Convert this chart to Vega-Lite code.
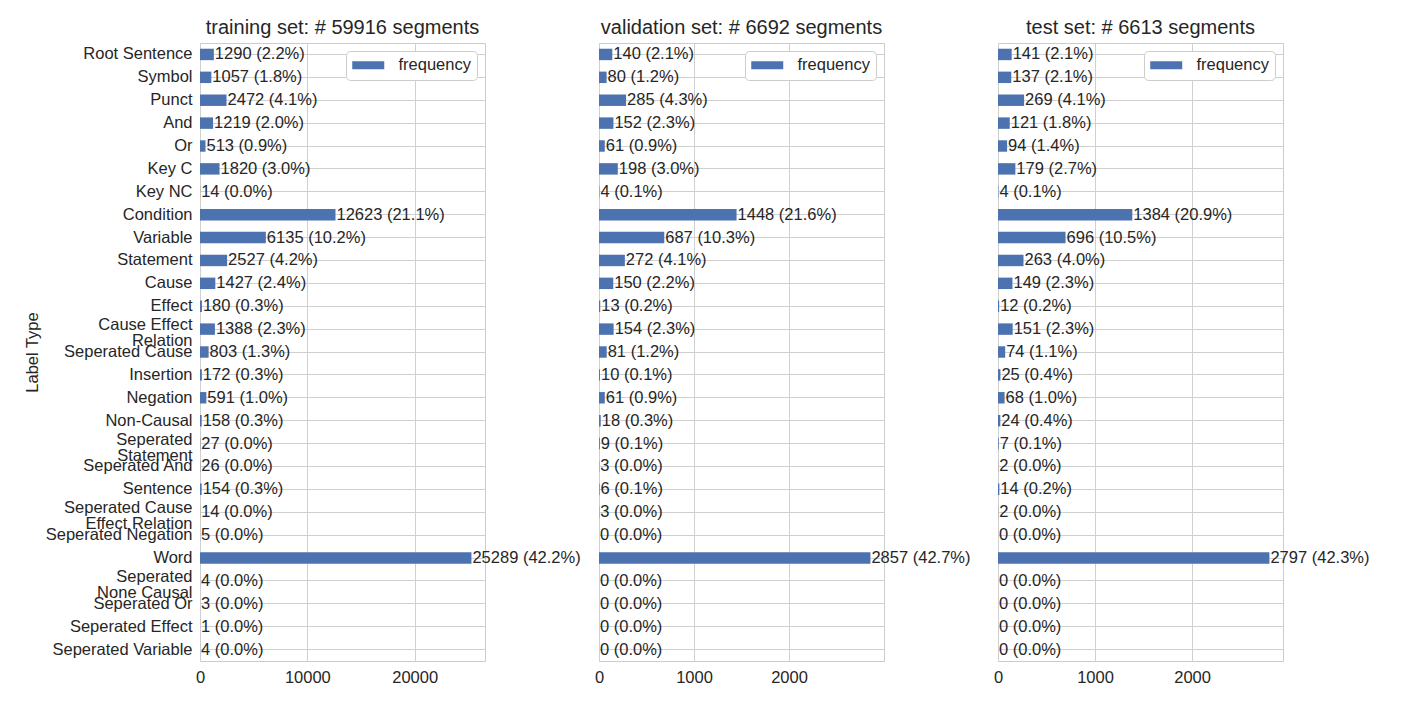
{
  "$schema": "https://vega.github.io/schema/vega-lite/v6.json",
  "padding": {"left": 23, "top": 17, "right": 5, "bottom": 5},
  "background": "white",
  "bounds": "flush",
  "config": {
    "font": "Liberation Sans",
    "view": {"stroke": "#cccccc", "strokeWidth": 1},
    "axis": {
      "labelFont": "Liberation Sans",
      "labelFontSize": 16.5,
      "labelColor": "#262626",
      "titleFont": "Liberation Sans",
      "titleFontSize": 16.5,
      "titleFontWeight": "normal",
      "titleColor": "#262626",
      "domain": false,
      "ticks": false,
      "grid": true,
      "gridColor": "#d0d0d0",
      "gridWidth": 1
    },
    "title": {"font": "Liberation Sans", "fontSize": 20, "fontWeight": "normal", "color": "#262626", "offset": 5},
    "legend": {
      "orient": "top-right",
      "offset": 8,
      "padding": 6,
      "fillColor": "white",
      "strokeColor": "#cccccc",
      "cornerRadius": 4,
      "title": null,
      "labelFont": "Liberation Sans",
      "labelFontSize": 16.5,
      "labelColor": "#262626",
      "labelOffset": 30,
      "symbolType": "M-1,-0.5H3V0.5H-1Z",
      "symbolSize": 256,
      "symbolStrokeWidth": 0,
      "symbolOpacity": 1
    }
  },
  "datasets": {
    "d": [
      {"set": "train", "label": "Root Sentence", "value": 1290, "pct": 2.2},
      {"set": "train", "label": "Symbol", "value": 1057, "pct": 1.8},
      {"set": "train", "label": "Punct", "value": 2472, "pct": 4.1},
      {"set": "train", "label": "And", "value": 1219, "pct": 2.0},
      {"set": "train", "label": "Or", "value": 513, "pct": 0.9},
      {"set": "train", "label": "Key C", "value": 1820, "pct": 3.0},
      {"set": "train", "label": "Key NC", "value": 14, "pct": 0.0},
      {"set": "train", "label": "Condition", "value": 12623, "pct": 21.1},
      {"set": "train", "label": "Variable", "value": 6135, "pct": 10.2},
      {"set": "train", "label": "Statement", "value": 2527, "pct": 4.2},
      {"set": "train", "label": "Cause", "value": 1427, "pct": 2.4},
      {"set": "train", "label": "Effect", "value": 180, "pct": 0.3},
      {"set": "train", "label": "Cause Effect\u00a0|Relation", "value": 1388, "pct": 2.3},
      {"set": "train", "label": "Seperated Cause", "value": 803, "pct": 1.3},
      {"set": "train", "label": "Insertion", "value": 172, "pct": 0.3},
      {"set": "train", "label": "Negation", "value": 591, "pct": 1.0},
      {"set": "train", "label": "Non-Causal", "value": 158, "pct": 0.3},
      {"set": "train", "label": "Seperated\u00a0|Statement", "value": 27, "pct": 0.0},
      {"set": "train", "label": "Seperated And", "value": 26, "pct": 0.0},
      {"set": "train", "label": "Sentence", "value": 154, "pct": 0.3},
      {"set": "train", "label": "Seperated Cause\u00a0|Effect Relation", "value": 14, "pct": 0.0},
      {"set": "train", "label": "Seperated Negation", "value": 5, "pct": 0.0},
      {"set": "train", "label": "Word", "value": 25289, "pct": 42.2},
      {"set": "train", "label": "Seperated\u00a0|None Causal", "value": 4, "pct": 0.0},
      {"set": "train", "label": "Seperated Or", "value": 3, "pct": 0.0},
      {"set": "train", "label": "Seperated Effect", "value": 1, "pct": 0.0},
      {"set": "train", "label": "Seperated Variable", "value": 4, "pct": 0.0},

      {"set": "val", "label": "Root Sentence", "value": 140, "pct": 2.1},
      {"set": "val", "label": "Symbol", "value": 80, "pct": 1.2},
      {"set": "val", "label": "Punct", "value": 285, "pct": 4.3},
      {"set": "val", "label": "And", "value": 152, "pct": 2.3},
      {"set": "val", "label": "Or", "value": 61, "pct": 0.9},
      {"set": "val", "label": "Key C", "value": 198, "pct": 3.0},
      {"set": "val", "label": "Key NC", "value": 4, "pct": 0.1},
      {"set": "val", "label": "Condition", "value": 1448, "pct": 21.6},
      {"set": "val", "label": "Variable", "value": 687, "pct": 10.3},
      {"set": "val", "label": "Statement", "value": 272, "pct": 4.1},
      {"set": "val", "label": "Cause", "value": 150, "pct": 2.2},
      {"set": "val", "label": "Effect", "value": 13, "pct": 0.2},
      {"set": "val", "label": "Cause Effect\u00a0|Relation", "value": 154, "pct": 2.3},
      {"set": "val", "label": "Seperated Cause", "value": 81, "pct": 1.2},
      {"set": "val", "label": "Insertion", "value": 10, "pct": 0.1},
      {"set": "val", "label": "Negation", "value": 61, "pct": 0.9},
      {"set": "val", "label": "Non-Causal", "value": 18, "pct": 0.3},
      {"set": "val", "label": "Seperated\u00a0|Statement", "value": 9, "pct": 0.1},
      {"set": "val", "label": "Seperated And", "value": 3, "pct": 0.0},
      {"set": "val", "label": "Sentence", "value": 6, "pct": 0.1},
      {"set": "val", "label": "Seperated Cause\u00a0|Effect Relation", "value": 3, "pct": 0.0},
      {"set": "val", "label": "Seperated Negation", "value": 0, "pct": 0.0},
      {"set": "val", "label": "Word", "value": 2857, "pct": 42.7},
      {"set": "val", "label": "Seperated\u00a0|None Causal", "value": 0, "pct": 0.0},
      {"set": "val", "label": "Seperated Or", "value": 0, "pct": 0.0},
      {"set": "val", "label": "Seperated Effect", "value": 0, "pct": 0.0},
      {"set": "val", "label": "Seperated Variable", "value": 0, "pct": 0.0},

      {"set": "test", "label": "Root Sentence", "value": 141, "pct": 2.1},
      {"set": "test", "label": "Symbol", "value": 137, "pct": 2.1},
      {"set": "test", "label": "Punct", "value": 269, "pct": 4.1},
      {"set": "test", "label": "And", "value": 121, "pct": 1.8},
      {"set": "test", "label": "Or", "value": 94, "pct": 1.4},
      {"set": "test", "label": "Key C", "value": 179, "pct": 2.7},
      {"set": "test", "label": "Key NC", "value": 4, "pct": 0.1},
      {"set": "test", "label": "Condition", "value": 1384, "pct": 20.9},
      {"set": "test", "label": "Variable", "value": 696, "pct": 10.5},
      {"set": "test", "label": "Statement", "value": 263, "pct": 4.0},
      {"set": "test", "label": "Cause", "value": 149, "pct": 2.3},
      {"set": "test", "label": "Effect", "value": 12, "pct": 0.2},
      {"set": "test", "label": "Cause Effect\u00a0|Relation", "value": 151, "pct": 2.3},
      {"set": "test", "label": "Seperated Cause", "value": 74, "pct": 1.1},
      {"set": "test", "label": "Insertion", "value": 25, "pct": 0.4},
      {"set": "test", "label": "Negation", "value": 68, "pct": 1.0},
      {"set": "test", "label": "Non-Causal", "value": 24, "pct": 0.4},
      {"set": "test", "label": "Seperated\u00a0|Statement", "value": 7, "pct": 0.1},
      {"set": "test", "label": "Seperated And", "value": 2, "pct": 0.0},
      {"set": "test", "label": "Sentence", "value": 14, "pct": 0.2},
      {"set": "test", "label": "Seperated Cause\u00a0|Effect Relation", "value": 2, "pct": 0.0},
      {"set": "test", "label": "Seperated Negation", "value": 0, "pct": 0.0},
      {"set": "test", "label": "Word", "value": 2797, "pct": 42.3},
      {"set": "test", "label": "Seperated\u00a0|None Causal", "value": 0, "pct": 0.0},
      {"set": "test", "label": "Seperated Or", "value": 0, "pct": 0.0},
      {"set": "test", "label": "Seperated Effect", "value": 0, "pct": 0.0},
      {"set": "test", "label": "Seperated Variable", "value": 0, "pct": 0.0}
    ]
  },
  "spacing": 114,
  "resolve": {"scale": {"color": "independent", "x": "independent", "y": "independent"}, "legend": {"color": "independent"}},
  "hconcat": [
    {
      "width": 285,
      "height": 618,
      "title": "training set: # 59916 segments",
      "data": {"name": "d"},
      "transform": [
        {"filter": "datum.set === 'train'"},
        {"calculate": "datum.value + ' (' + format(datum.pct, '.1f') + '%)'", "as": "txt"}
      ],
      "encoding": {
        "y": {"field": "label", "type": "nominal", "sort": null,
              "scale": {"paddingInner": 0.5, "paddingOuter": 0.25},
              "axis": {"title": "Label Type", "labelPadding": 8, "titlePadding": 5, "labelLimit": 300, "labelLineHeight": 16,
                       "labelOffset": {"condition": {"test": "indexof(datum.value, '|') >= 0", "value": -4}, "value": 0},
                       "labelExpr": "split(datum.label, '|')"}},
        "x": {"field": "value", "type": "quantitative", "scale": {"domain": [0, 26553], "nice": false},
              "axis": {"title": null, "values": [0, 10000, 20000], "format": "d", "labelPadding": 8, "labelFlush": false}}
      },
      "layer": [
        {"mark": {"type": "bar", "color": "#4c72b0"},
         "encoding": {"color": {"datum": "frequency", "type": "nominal", "scale": {"range": ["#4c72b0"]}}}},
        {"mark": {"type": "text", "align": "left", "baseline": "middle", "dx": 1, "fontSize": 16.5, "color": "#262626", "font": "Liberation Sans"},
         "encoding": {"text": {"field": "txt"}}}
      ]
    },
    {
      "width": 285,
      "height": 618,
      "title": "validation set: # 6692 segments",
      "data": {"name": "d"},
      "transform": [
        {"filter": "datum.set === 'val'"},
        {"calculate": "datum.value + ' (' + format(datum.pct, '.1f') + '%)'", "as": "txt"}
      ],
      "encoding": {
        "y": {"field": "label", "type": "nominal", "sort": null,
              "scale": {"paddingInner": 0.5, "paddingOuter": 0.25},
              "axis": {"title": null, "labels": false}},
        "x": {"field": "value", "type": "quantitative", "scale": {"domain": [0, 3000], "nice": false},
              "axis": {"title": null, "values": [0, 1000, 2000], "format": "d", "labelPadding": 8, "labelFlush": false}}
      },
      "layer": [
        {"mark": {"type": "bar", "color": "#4c72b0"},
         "encoding": {"color": {"datum": "frequency", "type": "nominal", "scale": {"range": ["#4c72b0"]}}}},
        {"mark": {"type": "text", "align": "left", "baseline": "middle", "dx": 1, "fontSize": 16.5, "color": "#262626", "font": "Liberation Sans"},
         "encoding": {"text": {"field": "txt"}}}
      ]
    },
    {
      "width": 285,
      "height": 618,
      "title": "test set: # 6613 segments",
      "data": {"name": "d"},
      "transform": [
        {"filter": "datum.set === 'test'"},
        {"calculate": "datum.value + ' (' + format(datum.pct, '.1f') + '%)'", "as": "txt"}
      ],
      "encoding": {
        "y": {"field": "label", "type": "nominal", "sort": null,
              "scale": {"paddingInner": 0.5, "paddingOuter": 0.25},
              "axis": {"title": null, "labels": false}},
        "x": {"field": "value", "type": "quantitative", "scale": {"domain": [0, 2937], "nice": false},
              "axis": {"title": null, "values": [0, 1000, 2000], "format": "d", "labelPadding": 8, "labelFlush": false}}
      },
      "layer": [
        {"mark": {"type": "bar", "color": "#4c72b0"},
         "encoding": {"color": {"datum": "frequency", "type": "nominal", "scale": {"range": ["#4c72b0"]}}}},
        {"mark": {"type": "text", "align": "left", "baseline": "middle", "dx": 1, "fontSize": 16.5, "color": "#262626", "font": "Liberation Sans"},
         "encoding": {"text": {"field": "txt"}}}
      ]
    }
  ]
}
